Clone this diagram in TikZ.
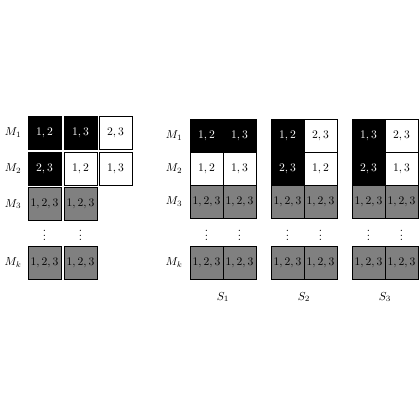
\documentclass[tikz,border=0pt]{standalone}
\begin{document}
\begin{tikzpicture}[x=0.030303cm,y=-0.030303cm,
  cell/.style={draw, line width=0.8pt, minimum width=1cm, minimum height=1cm, inner sep=0pt},
  blk/.style={cell, fill=black, text=white},
  wht/.style={cell, fill=white},
  gry/.style={cell, fill=gray},
  lbl/.style={inner sep=0pt},
  dts/.style={inner sep=0pt}]
\useasboundingbox (0,0) rectangle (420,420);
% left panel
\node[lbl] (lm1) at (13,132.5) {$M_1$};
\node[lbl] (lm2) at (13,168.5) {$M_2$};
\node[lbl] (lm3) at (13,204) {$M_3$};
\node[lbl] (lmk) at (13,262.5) {$M_k$};
\node[blk] (l11) at (44.5,132.5) {$1,2$};
\node[blk] (l12) at (80.5,132.5) {$1,3$};
\node[wht] (l13) at (115.5,132.5) {$2,3$};
\node[blk] (l21) at (44.5,168.5) {$2,3$};
\node[wht] (l22) at (80.5,168.5) {$1,2$};
\node[wht] (l23) at (115.5,168.5) {$1,3$};
\node[gry] (l31) at (44.5,204) {$1,2,3$};
\node[gry] (l32) at (80.5,204) {$1,2,3$};
\node[dts] (ld1) at (44.5,232) {$\vdots$};
\node[dts] (ld2) at (80.5,232) {$\vdots$};
\node[gry] (lk1) at (44.5,262.5) {$1,2,3$};
\node[gry] (lk2) at (80.5,262.5) {$1,2,3$};
% right labels
\node[lbl] (rm1) at (174,135.5) {$M_1$};
\node[lbl] (rm2) at (174,168.5) {$M_2$};
\node[lbl] (rm3) at (174,201.5) {$M_3$};
\node[lbl] (rmk) at (174,262.5) {$M_k$};
% S1
\node[blk] (a11) at (206.5,135.5) {$1,2$};
\node[blk] (a12) at (239.5,135.5) {$1,3$};
\node[wht] (a21) at (206.5,168.5) {$1,2$};
\node[wht] (a22) at (239.5,168.5) {$1,3$};
\node[gry] (a31) at (206.5,201.5) {$1,2,3$};
\node[gry] (a32) at (239.5,201.5) {$1,2,3$};
\node[dts] (ad1) at (206.5,232) {$\vdots$};
\node[dts] (ad2) at (239.5,232) {$\vdots$};
\node[gry] (ak1) at (206.5,262.5) {$1,2,3$};
\node[gry] (ak2) at (239.5,262.5) {$1,2,3$};
\node[lbl] (s1) at (223,297) {$S_1$};
% S2
\node[blk] (b11) at (287.5,135.5) {$1,2$};
\node[wht] (b12) at (320.5,135.5) {$2,3$};
\node[blk] (b21) at (287.5,168.5) {$2,3$};
\node[wht] (b22) at (320.5,168.5) {$1,2$};
\node[gry] (b31) at (287.5,201.5) {$1,2,3$};
\node[gry] (b32) at (320.5,201.5) {$1,2,3$};
\node[dts] (bd1) at (287.5,232) {$\vdots$};
\node[dts] (bd2) at (320.5,232) {$\vdots$};
\node[gry] (bk1) at (287.5,262.5) {$1,2,3$};
\node[gry] (bk2) at (320.5,262.5) {$1,2,3$};
\node[lbl] (s2) at (304,297) {$S_2$};
% S3
\node[blk] (c11) at (368.5,135.5) {$1,3$};
\node[wht] (c12) at (401.5,135.5) {$2,3$};
\node[blk] (c21) at (368.5,168.5) {$2,3$};
\node[wht] (c22) at (401.5,168.5) {$1,3$};
\node[gry] (c31) at (368.5,201.5) {$1,2,3$};
\node[gry] (c32) at (401.5,201.5) {$1,2,3$};
\node[dts] (cd1) at (368.5,232) {$\vdots$};
\node[dts] (cd2) at (401.5,232) {$\vdots$};
\node[gry] (ck1) at (368.5,262.5) {$1,2,3$};
\node[gry] (ck2) at (401.5,262.5) {$1,2,3$};
\node[lbl] (s3) at (385,297) {$S_3$};
\end{tikzpicture}
\end{document}
